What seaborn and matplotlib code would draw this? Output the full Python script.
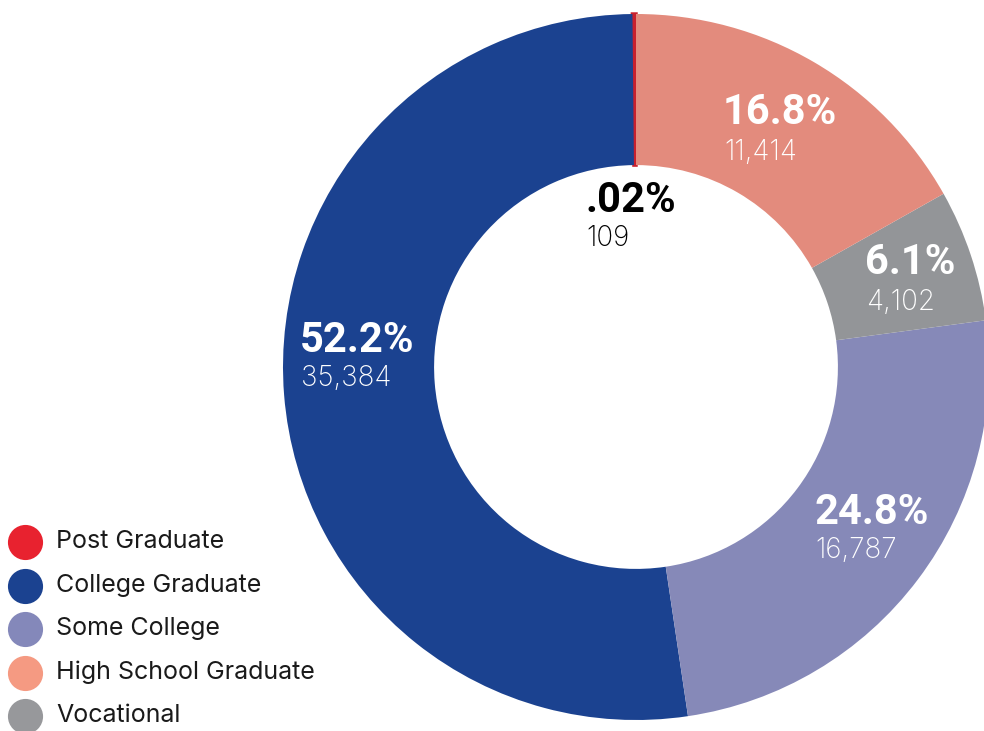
import matplotlib
matplotlib.use("Agg")
import matplotlib.pyplot as plt
import seaborn as sns

# Education level breakdown
categories = ["Post Graduate", "College Graduate", "Some College",
              "Vocational", "High School Graduate"]
counts = [109, 35384, 16787, 4102, 11414]
pct_labels = [".02%", "52.2%", "24.8%", "6.1%", "16.8%"]
count_labels = ["109", "35,384", "16,787", "4,102", "11,414"]

legend_order = ["Post Graduate", "College Graduate", "Some College",
                "High School Graduate", "Vocational"]

wedge_colors = {
    "Post Graduate": "#C8202E",
    "College Graduate": "#1B4290",
    "Some College": "#8689B8",
    "Vocational": "#939598",
    "High School Graduate": "#E38B7D",
}
legend_colors = {
    "Post Graduate": "#E8222F",
    "College Graduate": "#1B4290",
    "Some College": "#8488BA",
    "High School Graduate": "#F59A82",
    "Vocational": "#97989B",
}

sns.set_theme(style="white")
plt.rcParams["font.family"] = ["Inter", "DejaVu Sans"]

W, H = 984, 731
fig = plt.figure(figsize=(W / 100, H / 100), dpi=100)
ax = fig.add_axes([0, 0, 1, 1])

cx, cy, R = 636, H - 367, 353
wedges, _ = ax.pie(
    counts,
    colors=[wedge_colors[c] for c in categories],
    startangle=90,
    counterclock=True,
    center=(cx, cy),
    radius=R,
    wedgeprops=dict(width=R * 0.428, linewidth=0),
    frame=True,
)
# keep the tiny wedge visible
wedges[0].set_edgecolor(wedge_colors["Post Graduate"])
wedges[0].set_linewidth(2.5)
ax.set_xlim(0, W)
ax.set_ylim(0, H)
ax.set_aspect("equal")
ax.axis("off")

# value labels (pixel positions of the left text anchor)
label_pos = {
    "Post Graduate": (585, 200, "#000000"),
    "College Graduate": (300, 340, "white"),
    "Some College": (814, 512, "white"),
    "Vocational": (865, 263, "white"),
    "High School Graduate": (723, 113, "white"),
}
for cat, pct, cnt in zip(categories, pct_labels, count_labels):
    x, y, col = label_pos[cat]
    ax.text(x, H - y, pct, fontsize=30, fontweight="bold", color=col,
            family=["Roboto", "DejaVu Sans"], ha="left", va="center")
    ax.text(x + 1, H - (y + 39), cnt, fontsize=20, fontweight="light",
            color=col, ha="left", va="center")

# legend
for i, cat in enumerate(legend_order):
    y = H - (542 + i * 43.5)
    ax.scatter([24.5], [y], s=640, color=legend_colors[cat], linewidths=0,
               zorder=5, clip_on=False)
    ax.text(56, y, cat, fontsize=18, color="#1a1a1a", ha="left",
            va="center")

fig.savefig("out.png", dpi=100)
